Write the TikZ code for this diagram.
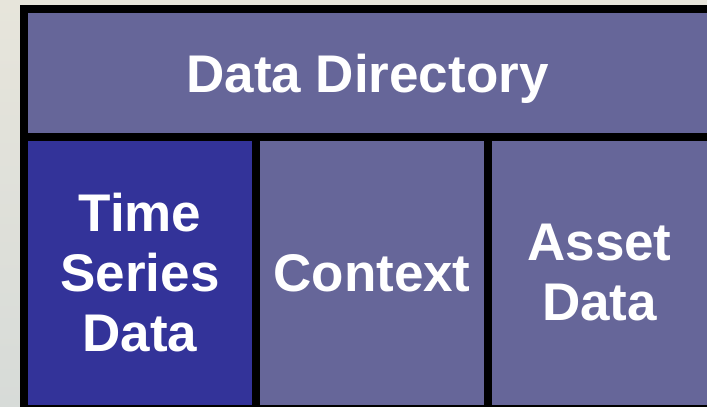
\documentclass[tikz,border=0pt]{standalone}
\usepackage{fontspec}
\setmainfont{Liberation Sans}
\usepackage{tikz}
\usepackage{xcolor}
\usetikzlibrary{positioning}
\definecolor{cSlate}{RGB}{102,102,153}
\definecolor{cIndigo}{RGB}{51,51,153}
\definecolor{cPaperTop}{RGB}{231,229,219}
\definecolor{cPaperBot}{RGB}{215,219,216}
\tikzset{
	layer/.style   ={rectangle, inner sep=0pt, align=center, text=white, fill=cSlate, font=\bfseries\fontsize{53}{60}\selectfont},
	dirbox/.style  ={layer, minimum width=679pt, minimum height=120pt, text depth=0pt},
	partbox/.style ={layer, minimum width=224pt, minimum height=264pt},
}

\begin{document}
\begin{tikzpicture}[x=1pt, y=1pt]
					\useasboundingbox (0,0) rectangle (707,-407);
					\shade[top color=cPaperTop, bottom color=cPaperBot] (0,0) rectangle (707,-407);
					\fill[black] (20,-5) rectangle (707,-407);
					\node[dirbox] (dd) at (367.5,-73) {Data Directory};
					\node[partbox, fill=cIndigo] (ts) at (140,-273) {Time\\ Series\\ Data};
					\node[partbox] (ctx) at (372,-273) {Context};
					\node[partbox, minimum width=215pt] (ad) at (599.5,-273) {Asset\\ Data};
				\end{tikzpicture}
\end{document}
